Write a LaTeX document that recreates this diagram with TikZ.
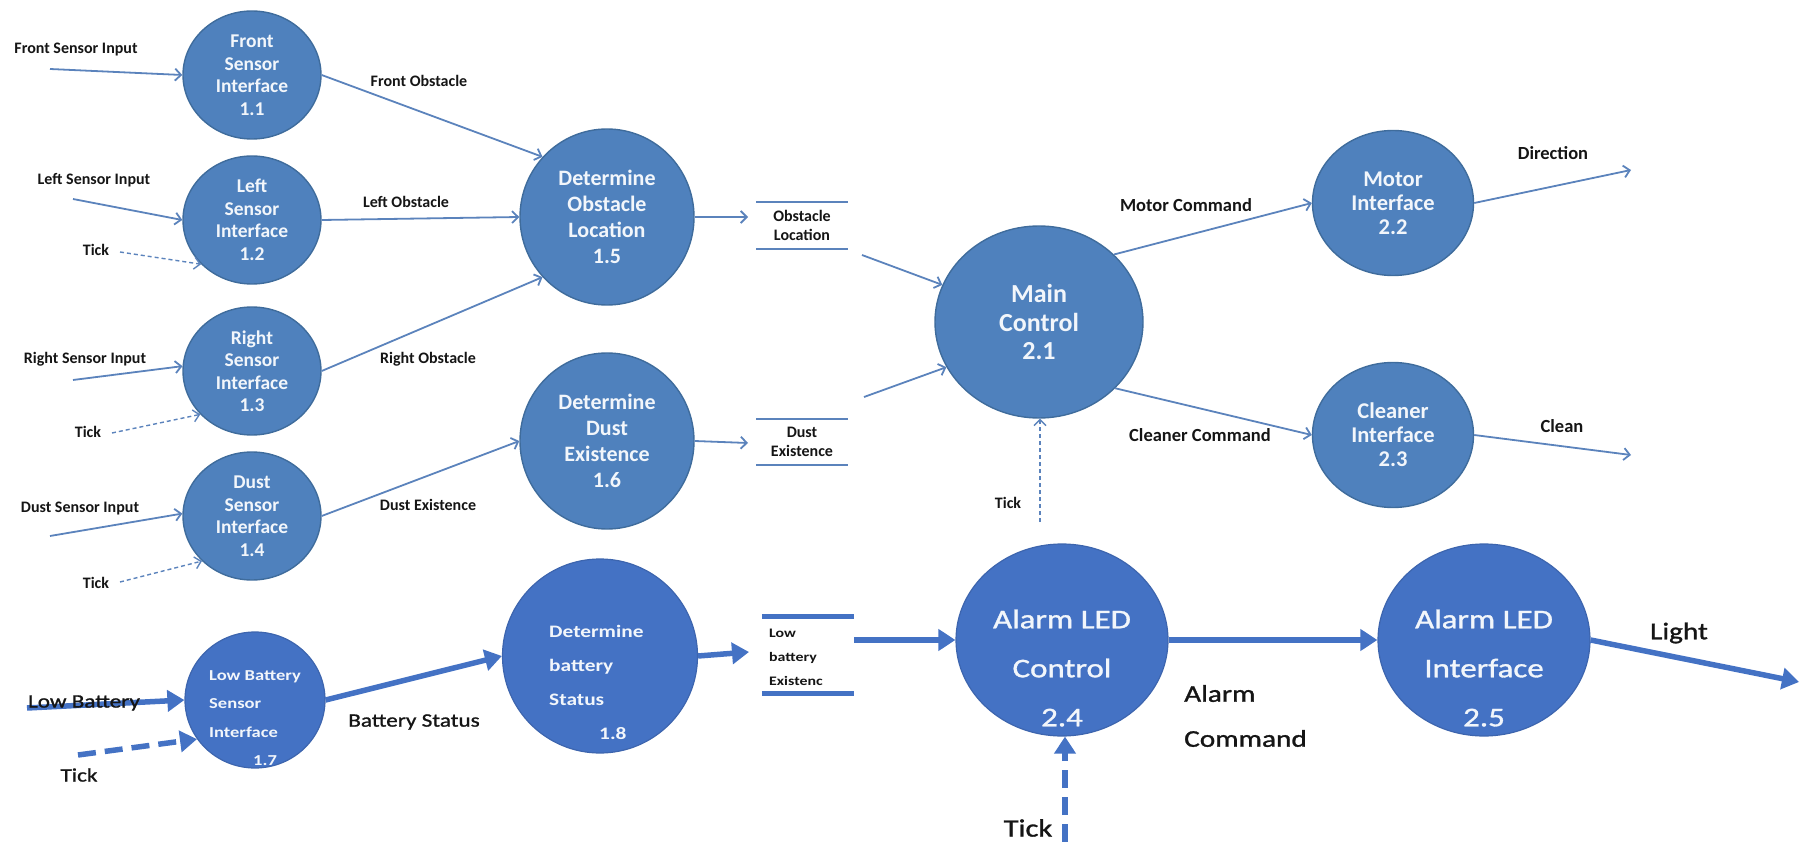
\documentclass[tikz,border=0pt]{standalone}
\usepackage{fontspec}
\setmainfont{Carlito}
\newfontfamily\widefont[FakeStretch=1.22,FakeBold=1.2]{Carlito}
\newfontfamily\widebold[FakeStretch=1.22]{Carlito}
\usetikzlibrary{shapes.geometric,arrows.meta}

\definecolor{procfill}{HTML}{4F81BD}
\definecolor{procedge}{HTML}{3F6C9C}
\definecolor{flowblue}{HTML}{5B83BC}
\definecolor{battblue}{HTML}{4472C4}
\definecolor{battedge}{HTML}{3D65AE}
\definecolor{proctext}{HTML}{F2F6FB}
\definecolor{labelink}{HTML}{151515}

\tikzset{
  proc/.style={ellipse, fill=procfill, draw=procedge, line width=1.4pt, inner sep=0pt},
  bproc/.style={ellipse, fill=battblue, draw=battedge, line width=1.2pt, inner sep=0pt},
  ptext/.style={text=proctext, align=center, inner sep=0pt, font=\bfseries\fontsize{19.5}{22.5}\selectfont},
  btext/.style={text=proctext, inner sep=0pt},
  flow/.style={draw=flowblue, line width=1.8pt, -{Straight Barb[length=6pt,width=12pt]}},
  tickflow/.style={flow, line width=1.4pt, dash pattern=on 4pt off 3pt},
  lbl/.style={text=labelink, inner sep=0pt, font=\bfseries\fontsize{16}{19}\selectfont},
  rlbl/.style={text=labelink, inner sep=0pt, font=\bfseries\fontsize{18.5}{22}\selectfont},
  store/.style={rectangle, inner sep=0pt, align=center, text=labelink,
    font=\bfseries\fontsize{16}{19}\selectfont},
  storeline/.style={draw=flowblue, line width=2.4pt},
  bflow/.style={draw=battblue, line width=5.5pt, -{Triangle[length=17pt,width=21pt]}},
  btick/.style={bflow, dash pattern=on 18pt off 9pt},
  blbl/.style={text=labelink, inner sep=0pt},
  bstoreline/.style={draw=battblue, line width=5pt},
}

\begin{document}
\begin{tikzpicture}[x=1pt,y=-1pt]
\useasboundingbox (0,0) rectangle (1800,842);

% ---------- sensor interfaces ----------
\node[proc, minimum width=138pt, minimum height=128pt] (p11) at (252,75) {};
\node[ptext] (t11) at (p11) {Front\\Sensor\\Interface\\1.1};
\node[proc, minimum width=138pt, minimum height=128pt] (p12) at (252,220) {};
\node[ptext] (t12) at (p12) {Left\\Sensor\\Interface\\1.2};
\node[proc, minimum width=138pt, minimum height=128pt] (p13) at (252,371) {};
\node[ptext] (t13) at (p13) {Right\\Sensor\\Interface\\1.3};
\node[proc, minimum width=138pt, minimum height=128pt] (p14) at (252,516) {};
\node[ptext] (t14) at (p14) {Dust\\Sensor\\Interface\\1.4};

% ---------- determination processes ----------
\node[proc, minimum width=174pt, minimum height=176pt] (p15) at (607,217) {};
\node[ptext, font=\bfseries\fontsize{22}{26}\selectfont] (t15) at (p15) {Determine\\Obstacle\\Location\\1.5};
\node[proc, minimum width=174pt, minimum height=176pt] (p16) at (607,441) {};
\node[ptext, font=\bfseries\fontsize{22}{26}\selectfont] (t16) at (p16) {Determine\\Dust\\Existence\\1.6};

% ---------- control and actuator interfaces ----------
\node[proc, minimum width=208pt, minimum height=192pt] (p21) at (1039,322) {};
\node[ptext, font=\bfseries\fontsize{26}{28.5}\selectfont] (t21) at (p21) {Main\\Control\\2.1};
\node[proc, minimum width=161pt, minimum height=145pt] (p22) at (1393,203) {};
\node[ptext, font=\bfseries\fontsize{22.5}{24}\selectfont] (t22) at (p22) {Motor\\Interface\\2.2};
\node[proc, minimum width=161pt, minimum height=145pt] (p23) at (1393,435) {};
\node[ptext, font=\bfseries\fontsize{22.5}{24}\selectfont] (t23) at (p23) {Cleaner\\Interface\\2.3};

% ---------- data stores ----------
\node[store, minimum width=91pt, minimum height=47pt] (so1) at (802,225.5) {Obstacle\\Location};
\draw[storeline] (so1.north west) -- (so1.north east) (so1.south west) -- (so1.south east);
\node[store, minimum width=91pt, minimum height=46pt] (so2) at (802,442) {Dust\\Existence};
\draw[storeline] (so2.north west) -- (so2.north east) (so2.south west) -- (so2.south east);

% ---------- battery branch ----------
\node[bproc, minimum width=140pt, minimum height=136pt] (p17) at (255,700) {};
\node[btext, anchor=west, align=left, font=\widebold\bfseries\fontsize{15.2}{28.5}\selectfont] (t17) at (209,718)
  {Low Battery\\Sensor\\Interface\\\hspace*{44pt}1.7};
\node[bproc, minimum width=195pt, minimum height=194pt] (p18) at (600,656) {};
\node[btext, anchor=west, align=left, font=\widebold\bfseries\fontsize{17.5}{34}\selectfont] (t18) at (549,682)
  {Determine\\battery\\Status\\\hspace*{50pt}1.8};
\node[rectangle, inner sep=0pt, minimum width=92pt, minimum height=76pt] (so3) at (808,655) {};
\draw[bstoreline] (so3.north west) -- (so3.north east) (so3.south west) -- (so3.south east);
\node[blbl, anchor=west, align=left, font=\widebold\bfseries\fontsize{13}{24}\selectfont] (so3t) at (769,657)
  {Low\\battery\\Existenc};
\node[bproc, minimum width=212pt, minimum height=192pt] (p24) at (1062,640) {};
\node[btext, align=center, font=\widefont\fontsize{27}{49}\selectfont] (t24) at (1062,668) {Alarm LED\\Control\\2.4};
\node[bproc, minimum width=212pt, minimum height=192pt] (p25) at (1484,640) {};
\node[btext, align=center, font=\widefont\fontsize{27}{49}\selectfont] (t25) at (1484,668) {Alarm LED\\Interface\\2.5};

% ---------- free ends of flows ----------
\coordinate (in11) at (50,69);
\coordinate (in12) at (73,199);
\coordinate (tk12) at (120,252);
\coordinate (in13) at (73,380);
\coordinate (tk13) at (112,433);
\coordinate (in14) at (50,536);
\coordinate (tk14) at (120,582);
\coordinate (c15) at (748,217);
\coordinate (c16) at (748,443);
\coordinate (so1out) at (862,255);
\coordinate (so2out) at (864,397);
\coordinate (cdir) at (1631,170);
\coordinate (cclean) at (1631,455);
\coordinate (tk21) at (1040,522);
\coordinate (inlb) at (27,708);
\coordinate (tklb) at (78,755);
\coordinate (c18) at (749,652);
\coordinate (so3out) at (854,640);
\coordinate (clight) at (1799,682);
\coordinate (tk24) at (1065,842);

% ---------- upper flows ----------
\draw[flow] (in11) -- (p11.180);
\draw[flow] (p11.east) -- (p15.137);
\draw[flow] (in12) -- (p12.180);
\draw[tickflow] (tk12) -- (p12.221);
\draw[flow] (p12.east) -- (p15.west);
\draw[flow] (in13) -- (p13.176);
\draw[tickflow] (tk13) -- (p13.220);
\draw[flow] (p13.east) -- (p15.223);
\draw[flow] (in14) -- (p14.178);
\draw[tickflow] (tk14) -- (p14.222);
\draw[flow] (p14.east) -- (p16.west);
\draw[flow] (p15.east) -- (c15);
\draw[flow] (p16.east) -- (c16);
\draw[flow] (so1out) -- (p21.159);
\draw[flow] (so2out) -- (p21.206);
\draw[flow] (p21.42) -- (p22.west);
\draw[flow] (p22.east) -- (cdir);
\draw[flow] (p21.-41) -- (p23.west);
\draw[flow] (p23.east) -- (cclean);
\draw[tickflow] (tk21) -- (tk21 |- p21.south);

% ---------- lower flows ----------
\draw[bflow] (inlb) -- (p17.180);
\draw[btick] (tklb) -- (p17.214);
\draw[bflow] (p17.east) -- (p18.west);
\draw[bflow] (p18.east) -- (c18);
\draw[bflow] (so3out) -- (p24.west);
\draw[bflow] (p24.east) -- (p25.west);
\draw[bflow] (p25.east) -- (clight);
\draw[btick] (tk24) -- (tk24 |- p24.south);

% ---------- flow labels ----------
\node[lbl] (l1) at (76,50) {Front Sensor Input};
\node[lbl] (l2) at (419,81) {Front Obstacle};
\node[lbl] (l3) at (94,180) {Left Sensor Input};
\node[lbl] (l4) at (96,250) {Tick};
\node[lbl] (l5) at (406,202) {Left Obstacle};
\node[lbl] (l6) at (85,359) {Right Sensor Input};
\node[lbl] (l7) at (88,432) {Tick};
\node[lbl] (l8) at (428,359) {Right Obstacle};
\node[lbl] (l9) at (80,509) {Dust Sensor Input};
\node[lbl] (l10) at (96,583) {Tick};
\node[lbl] (l11) at (428,505) {Dust Existence};
\node[rlbl] (l12) at (1186,205) {Motor Command};
\node[rlbl] (l13) at (1553,153) {Direction};
\node[rlbl] (l14) at (1200,435) {Cleaner Command};
\node[rlbl] (l15) at (1562,426) {Clean};
\node[lbl] (l16) at (1008,503) {Tick};

\node[blbl, font=\widefont\fontsize{19}{22}\selectfont] (l17) at (84,703) {Low Battery};
\node[blbl, font=\widefont\fontsize{19}{22}\selectfont] (l18) at (79,775) {Tick};
\node[blbl, font=\widefont\fontsize{19}{22}\selectfont] (l19) at (414,722) {Battery Status};
\node[blbl, anchor=west, align=left, font=\widefont\fontsize{24}{45}\selectfont] (l20) at (1184,716) {Alarm\\Command};
\node[blbl, font=\widefont\fontsize{24}{28}\selectfont] (l21) at (1679,633) {Light};
\node[blbl, font=\widefont\fontsize{25}{28}\selectfont] (l22) at (1028,828) {Tick};
\end{tikzpicture}
\end{document}
